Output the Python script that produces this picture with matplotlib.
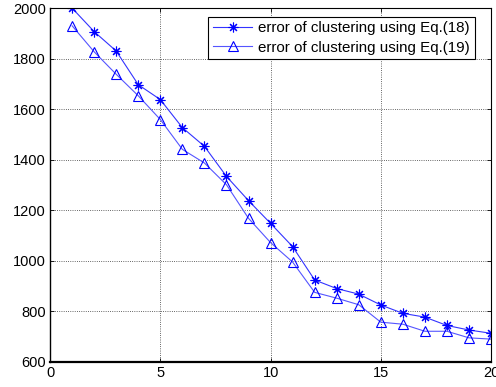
import matplotlib
matplotlib.use("Agg")
import matplotlib.pyplot as plt

x = list(range(1, 21))
err_eq18 = [2000, 1907, 1830, 1697, 1638, 1527, 1453, 1334, 1238, 1148,
            1056, 924, 890, 868, 825, 792, 777, 744, 726, 713]
err_eq19 = [1930, 1827, 1738, 1653, 1559, 1441, 1387, 1301, 1168, 1072,
            995, 875, 852, 826, 757, 749, 721, 721, 695, 690]
labels = ["error of clustering using Eq.(18)", "error of clustering using Eq.(19)"]

plt.rcParams["font.family"] = ["Liberation Sans", "DejaVu Sans"]

fig = plt.figure(figsize=(4.96, 3.87), dpi=100)
ax = fig.add_axes([0.101, 0.065, 0.889, 0.914])

ax.plot(x, err_eq18, color="#3333ff", lw=0.8, marker=(8, 2, 0), ms=7,
        mfc="#0000ff", mec="#0000ff", mew=0.8, label=labels[0])
ax.plot(x, err_eq19, color="#5555ff", lw=0.8, marker="^", ms=7.5,
        mfc="none", mec="#0000ff", mew=0.8, label=labels[1])

ax.set_xlim(0, 20)
ax.set_ylim(600, 2000)
ax.set_xticks([0, 5, 10, 15, 20])
ax.set_yticks(range(600, 2001, 200))
ax.tick_params(direction="in", top=True, right=True, labelsize=10.5,
               length=3, width=0.6, pad=3)
ax.grid(True, color="#333333", linestyle=":", linewidth=0.6)
for s in ax.spines.values():
    s.set_linewidth(0.8)
ax.spines["bottom"].set_linewidth(1.6)
ax.spines["left"].set_linewidth(1.0)

leg = ax.legend(loc="upper right", bbox_to_anchor=(0.973, 0.988), fontsize=10.9,
                fancybox=False, framealpha=1, edgecolor="black",
                borderpad=0.3, labelspacing=0.35, handlelength=2.6,
                handletextpad=0.4, borderaxespad=0.3)
leg.get_frame().set_linewidth(0.8)

fig.savefig("out.png", dpi=100)
